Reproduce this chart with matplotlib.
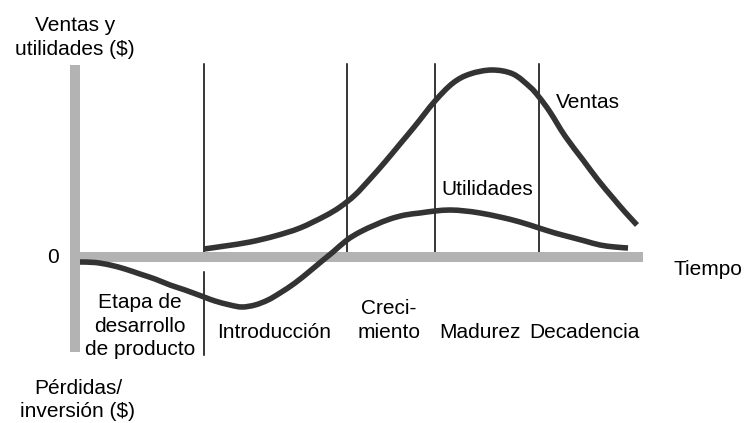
import numpy as np
import matplotlib
matplotlib.use("Agg")
import matplotlib.pyplot as plt
from matplotlib.path import Path
from matplotlib.patches import PathPatch

plt.rcParams['font.family'] = ['Liberation Sans', 'DejaVu Sans']

# curves (time, value); 0 = horizontal axis
ventas_t = [12.9, 15.0, 17.5, 20.0, 22.5, 25.0, 26.5, 28.0, 29.5, 31.0, 32.5, 34.0,
            36.0, 37.8, 39.5, 41.7, 43.8, 45.5, 46.4, 47.5, 49.0, 50.8,
            52.3, 53.8, 55.0, 56.2]
ventas_v = [0.8, 1.1, 1.5, 2.1, 2.9, 4.1, 5.0, 6.2, 7.8, 9.5, 11.3, 13.1,
            15.6, 17.4, 18.3, 18.7, 18.3, 17.0, 16.0, 14.5, 12.1, 9.7,
            7.7, 5.9, 4.5, 3.2]

util_t = [0.5, 2.0, 3.5, 5.0, 6.5, 8.0, 9.5, 11.0, 12.9, 14.0, 15.5, 16.7,
          18.0, 19.3, 20.5, 22.0, 23.5, 24.7, 25.8, 27.2, 28.5, 30.0, 31.5, 33.0,
          34.5, 36.0, 37.5, 39.0, 40.5, 42.5, 44.5, 46.4, 48.0, 49.5, 51.0, 52.5,
          54.0, 55.3]
util_v = [-0.5, -0.55, -0.8, -1.2, -1.7, -2.2, -2.8, -3.3, -4.0, -4.4, -4.8, -5.0,
          -4.8, -4.3, -3.6, -2.6, -1.4, -0.4, 0.5, 1.7, 2.5, 3.2, 3.8, 4.2,
          4.4, 4.6, 4.7, 4.6, 4.4, 4.0, 3.5, 2.9, 2.4, 2.0, 1.6, 1.2,
          1.0, 0.9]

stage_bounds = [12.85, 27.2, 36.03, 46.43]
stage_labels = ['Etapa de\ndesarrollo\nde producto', 'Introducción',
                'Creci-\nmiento', 'Madurez', 'Decadencia']
stage_label_t = [6.5, 19.9, 31.4, 40.5, 50.9]
stage_label_v = [-9.8, -8.1, -8.1, -8.1, -8.1]


def smooth_path(xs, ys):
    # catmull-rom through the points, drawn as cubic beziers
    p = np.column_stack([xs, ys])
    verts = [p[0]]
    codes = [Path.MOVETO]
    for i in range(len(p) - 1):
        p0 = p[max(i - 1, 0)]
        p1, p2 = p[i], p[i + 1]
        p3 = p[min(i + 2, len(p) - 1)]
        verts += [p1 + (p2 - p0) / 6, p2 - (p3 - p1) / 6, p2]
        codes += [Path.CURVE4] * 3
    return Path(verts, codes)


fig = plt.figure(figsize=(7.51, 4.23), dpi=100)
ax = fig.add_axes([0, 0, 1, 1])
ax.set_xlim(-7.5, 67.6)
ax.set_ylim(-16.6, 25.7)
ax.axis('off')

grey = '#b3b3b3'
dark = '#333333'

# thin stage dividers
for b in stage_bounds:
    ax.plot([b, b], [0.5, 19.25], color='black', lw=1.1, zorder=1)
ax.plot([stage_bounds[0]] * 2, [-1.55, -9.8], color='black', lw=1.1, zorder=1)

# grey axes
ax.plot([0, 0], [19.2, -9.5], color=grey, lw=7.2, solid_capstyle='butt', zorder=2)
ax.plot([-0.5, 56.8], [0, 0], color=grey, lw=7.2, solid_capstyle='butt', zorder=2)

for xs, ys in [(ventas_t, ventas_v), (util_t, util_v)]:
    ax.add_patch(PathPatch(smooth_path(xs, ys), fill=False, edgecolor=dark,
                           lw=4.0, capstyle='butt', zorder=3))

# va='baseline' puts the last line of multi-line text on the given y
fs = 15
kw = dict(fontsize=fs, ha='center', va='baseline', linespacing=1.3, color='black')
ax.text(0, 20.2, 'Ventas y\nutilidades ($)', **kw)
ax.text(0.3, -16.0, 'Pérdidas/\ninversión ($)', **kw)
ax.text(-2.2, -0.6, '0', **kw)
ax.text(63.3, -1.8, 'Tiempo', **kw)
ax.text(51.3, 14.9, 'Ventas', **kw)
ax.text(41.2, 6.2, 'Utilidades', **kw)
for lab, t, v in zip(stage_labels, stage_label_t, stage_label_v):
    ax.text(t, v, lab, **kw)

fig.savefig('out.png', dpi=100)
